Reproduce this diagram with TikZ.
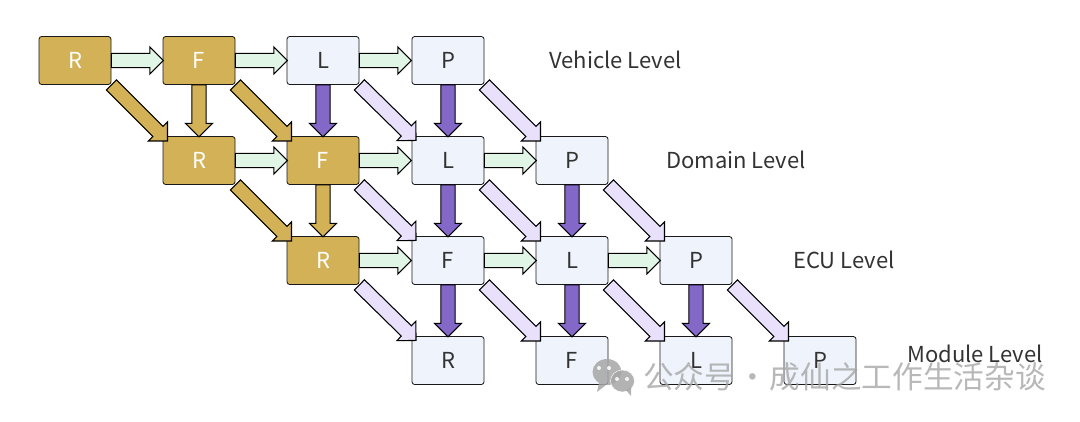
\documentclass[tikz,border=0pt]{standalone}
\usepackage{fontspec}
\setmainfont{Noto Sans CJK SC}
\usetikzlibrary{shapes.arrows}

\definecolor{goldbox}{HTML}{D2B157}
\definecolor{palebox}{HTML}{EFF3FC}
\definecolor{palegreen}{HTML}{E0F5E6}
\definecolor{palepurple}{HTML}{E9E1FB}
\definecolor{deeppurple}{HTML}{8468C8}

\tikzset{
  lvlbox/.style={draw=black!90, semithick, rounded corners=2pt, minimum width=54pt, minimum height=36pt, inner sep=0pt, font=\fontsize{16.5}{16.5}\selectfont},
  goldnode/.style={lvlbox, fill=goldbox, text=white},
  palenode/.style={lvlbox, fill=palebox, text=black!80},
  fatarrow/.style={single arrow, draw=black, thick, outer sep=0pt, inner xsep=0pt, inner ysep=5pt, single arrow head extend=4.75pt, sloped, pos=0, anchor=tail},
  across/.style={fatarrow, minimum height=39pt},
  down/.style={fatarrow, minimum height=39pt},
  slant/.style={fatarrow, minimum height=59.5pt},
  lvltext/.style={font=\fontsize{16.5}{16.5}\selectfont, text=black!80, anchor=west, inner sep=0pt},
  marktext/.style={anchor=west, inner sep=0pt, text=black!35, opacity=.8, font=\fontsize{23}{23}\selectfont}
}

\begin{document}
\begin{tikzpicture}[x=0.75pt,y=-0.75pt]

\useasboundingbox (0,0) rectangle (1080,421);

% Boxes
\node[goldnode] (r1) at (75,60.5) {R};
\node[goldnode] (f1) at (199,60.5) {F};
\node[palenode] (l1) at (323,60.5) {L};
\node[palenode] (p1) at (448,60.5) {P};

\node[goldnode] (r2) at (199,160.5) {R};
\node[goldnode] (f2) at (323,160.5) {F};
\node[palenode] (l2) at (448,160.5) {L};
\node[palenode] (p2) at (572,160.5) {P};

\node[goldnode] (r3) at (323,260.5) {R};
\node[palenode] (f3) at (448,260.5) {F};
\node[palenode] (l3) at (572,260.5) {L};
\node[palenode] (p3) at (696,260.5) {P};

\node[palenode] (r4) at (448,360.5) {R};
\node[palenode] (f4) at (572,360.5) {F};
\node[palenode] (l4) at (696,360.5) {L};
\node[palenode] (p4) at (820,360.5) {P};

% Levels
\node[lvltext] (vehicle) at (549,60) {Vehicle Level};
\node[lvltext] (domain) at (666,160) {Domain Level};
\node[lvltext] (ecu) at (793,260) {ECU Level};
\node[lvltext] (module) at (907,354) {Module Level};

% Arrows
\foreach \a/\b in {r1/f1,f1/l1,l1/p1,r2/f2,f2/l2,l2/p2,r3/f3,f3/l3,l3/p3}
  \path (\a.east) -- (\b.west) node[across, fill=palegreen] (\a\b) {};

\foreach \a/\b in {f1/r2,f2/r3}
  \path (\a.south) -- (\b.north) node[down, fill=goldbox] (\a\b) {};
\foreach \a/\b in {l1/f2,p1/l2,l2/f3,p2/l3,f3/r4,l3/f4,p3/l4}
  \path (\a.south) -- (\b.north) node[down, fill=deeppurple] (\a\b) {};

\foreach \a/\b in {r1/r2,f1/f2,r2/r3}
  \path (\a.south east) -- (\b.north west) node[slant, fill=goldbox] (\a\b) {};
\foreach \a/\b in {l1/l2,p1/p2,f2/f3,l2/l3,p2/p3,r3/r4,f3/f4,l3/l4,p3/p4}
  \path (\a.south east) -- (\b.north west) node[slant, fill=palepurple] (\a\b) {};

% Watermark
\begin{scope}[opacity=.85]
\fill[black!35] (607,372) ellipse (14.5 and 13);
\fill[black!35] (599,383) -- (597,392) -- (606,385) -- cycle;
\fill[white] (599,368) circle (2);
\fill[white] (609,368) circle (2);
\fill[black!35, draw=white] (622.5,381) ellipse (12 and 11);
\fill[black!35] (626,390) -- (631,396) -- (631,387) -- cycle;
\fill[white] (617,379) circle (2);
\fill[white] (627,379) circle (2);
\end{scope}
\node[marktext] (mark) at (643,377) {公众号\kern1.5pt·\kern1.5pt成仙之工作生活杂谈};

\end{tikzpicture}
\end{document}
